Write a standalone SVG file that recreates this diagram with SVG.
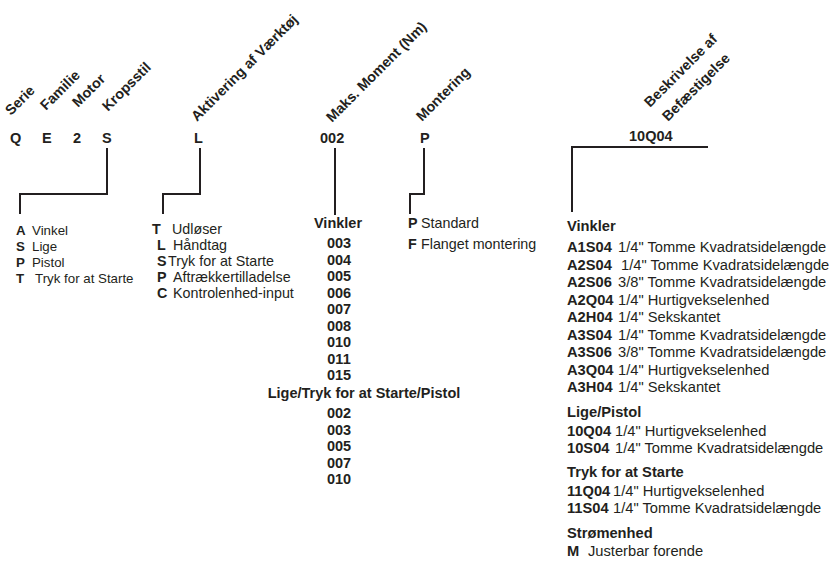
<svg xmlns="http://www.w3.org/2000/svg" width="833" height="561" viewBox="0 0 833 561">
<style>
text{font-family:"Liberation Sans",Arial,sans-serif;fill:#231f20;font-size:13.3px}
.b{font-weight:bold}
.code{font-weight:bold;font-size:14.5px}
.rot{font-weight:bold;font-size:14.3px}
.mid{font-weight:bold;text-anchor:middle;font-size:14.5px}
.akt{font-size:14.3px}
.rc{font-size:14.7px}
.ln{fill:none;stroke:#231f20;stroke-width:2}
</style>
<rect width="833" height="561" fill="#ffffff"/>
<g id="headers">
<text class="rot" transform="translate(11,116) rotate(-45)">Serie</text>
<text class="rot" transform="translate(46,111) rotate(-45)">Familie</text>
<text class="rot" transform="translate(78,108) rotate(-45)">Motor</text>
<text class="rot" transform="translate(108,112) rotate(-45)">Kropsstil</text>
<text class="rot" transform="translate(197,122) rotate(-45)">Aktivering af Værktøj</text>
<text class="rot" transform="translate(332,123) rotate(-45)">Maks. Moment (Nm)</text>
<text class="rot" transform="translate(422,122) rotate(-45)">Montering</text>
<text class="rot" transform="translate(650,108) rotate(-45)">Beskrivelse af</text>
<text class="rot" transform="translate(668,122) rotate(-45)">Befæstigelse</text>
</g>
<g id="code">
<text class="code" x="10" y="143">Q</text>
<text class="code" x="42" y="143">E</text>
<text class="code" x="73" y="143">2</text>
<text class="code" x="102" y="143">S</text>
<text class="code" x="194" y="143">L</text>
<text class="code" x="320" y="143">002</text>
<text class="code" x="420" y="143">P</text>
<text class="code" x="629" y="141">10Q04</text>
</g>
<g id="connectors">
<polyline class="ln" points="107,148 107,194 20,194 20,214"/>
<polyline class="ln" points="200,148 200,194 163,194 163,214"/>
<polyline class="ln" points="335,148 335,215"/>
<polyline class="ln" points="424,148 424,194 410,194 410,214"/>
<polyline class="ln" points="708,147 572,147 572,212"/>
</g>
<g id="kropsstil-list">
<text x="16" y="235"><tspan class="b">A</tspan><tspan x="32">Vinkel</tspan></text>
<text x="16" y="251"><tspan class="b">S</tspan><tspan x="32">Lige</tspan></text>
<text x="16" y="267"><tspan class="b">P</tspan><tspan x="32">Pistol</tspan></text>
<text x="16" y="283"><tspan class="b">T</tspan><tspan x="35">Tryk for at Starte</tspan></text>
</g>
<g id="aktivering-list">
<text class="akt" x="152" y="234"><tspan class="b">T</tspan><tspan x="172">Udløser</tspan></text>
<text class="akt" x="157" y="250"><tspan class="b">L</tspan><tspan x="173">Håndtag</tspan></text>
<text class="akt" x="157" y="266"><tspan class="b">S</tspan><tspan x="168">Tryk for at Starte</tspan></text>
<text class="akt" x="157" y="282"><tspan class="b">P</tspan><tspan x="173">Aftrækkertilladelse</tspan></text>
<text class="akt" x="157" y="298"><tspan class="b">C</tspan><tspan x="173">Kontrolenhed-input</tspan></text>
</g>
<g id="moment-list">
<text class="mid" x="338" y="228">Vinkler</text>
<text class="mid" x="339" y="248">003</text>
<text class="mid" x="339" y="264.5">004</text>
<text class="mid" x="339" y="281">005</text>
<text class="mid" x="339" y="297.5">006</text>
<text class="mid" x="339" y="314">007</text>
<text class="mid" x="339" y="330.5">008</text>
<text class="mid" x="339" y="347">010</text>
<text class="mid" x="339" y="363.5">011</text>
<text class="mid" x="339" y="380">015</text>
<text class="mid" x="364" y="398">Lige/Tryk for at Starte/Pistol</text>
<text class="mid" x="339" y="418">002</text>
<text class="mid" x="339" y="434.5">003</text>
<text class="mid" x="339" y="451">005</text>
<text class="mid" x="339" y="467.5">007</text>
<text class="mid" x="339" y="484">010</text>
</g>
<g id="montering-list">
<text class="akt" x="408" y="228"><tspan class="b">P</tspan><tspan x="421">Standard</tspan></text>
<text class="akt" x="408" y="249"><tspan class="b">F</tspan><tspan x="421">Flanget montering</tspan></text>
</g>
<g id="befaestigelse-list">
<text class="rc b" x="567" y="231">Vinkler</text>
<text class="rc" x="567" y="252"><tspan class="b">A1S04</tspan><tspan x="618">1/4" Tomme Kvadratsidelængde</tspan></text>
<text class="rc" x="567" y="269.5"><tspan class="b">A2S04</tspan><tspan x="621">1/4" Tomme Kvadratsidelængde</tspan></text>
<text class="rc" x="567" y="287"><tspan class="b">A2S06</tspan><tspan x="618">3/8" Tomme Kvadratsidelængde</tspan></text>
<text class="rc" x="567" y="304.5"><tspan class="b">A2Q04</tspan><tspan x="618">1/4" Hurtigvekselenhed</tspan></text>
<text class="rc" x="567" y="322"><tspan class="b">A2H04</tspan><tspan x="618">1/4" Sekskantet</tspan></text>
<text class="rc" x="567" y="339.5"><tspan class="b">A3S04</tspan><tspan x="618">1/4" Tomme Kvadratsidelængde</tspan></text>
<text class="rc" x="567" y="357"><tspan class="b">A3S06</tspan><tspan x="618">3/8" Tomme Kvadratsidelængde</tspan></text>
<text class="rc" x="567" y="374.5"><tspan class="b">A3Q04</tspan><tspan x="618">1/4" Hurtigvekselenhed</tspan></text>
<text class="rc" x="567" y="392"><tspan class="b">A3H04</tspan><tspan x="618">1/4" Sekskantet</tspan></text>
<text class="rc b" x="567" y="417">Lige/Pistol</text>
<text class="rc" x="567" y="436"><tspan class="b">10Q04</tspan><tspan x="615">1/4" Hurtigvekselenhed</tspan></text>
<text class="rc" x="567" y="453"><tspan class="b">10S04</tspan><tspan x="615">1/4" Tomme Kvadratsidelængde</tspan></text>
<text class="rc b" x="567" y="477">Tryk for at Starte</text>
<text class="rc" x="567" y="496"><tspan class="b">11Q04</tspan><tspan x="613">1/4" Hurtigvekselenhed</tspan></text>
<text class="rc" x="567" y="513"><tspan class="b">11S04</tspan><tspan x="613">1/4" Tomme Kvadratsidelængde</tspan></text>
<text class="rc b" x="567" y="538">Strømenhed</text>
<text class="rc" x="567" y="556"><tspan class="b">M</tspan><tspan x="588">Justerbar forende</tspan></text>
</g>
</svg>
